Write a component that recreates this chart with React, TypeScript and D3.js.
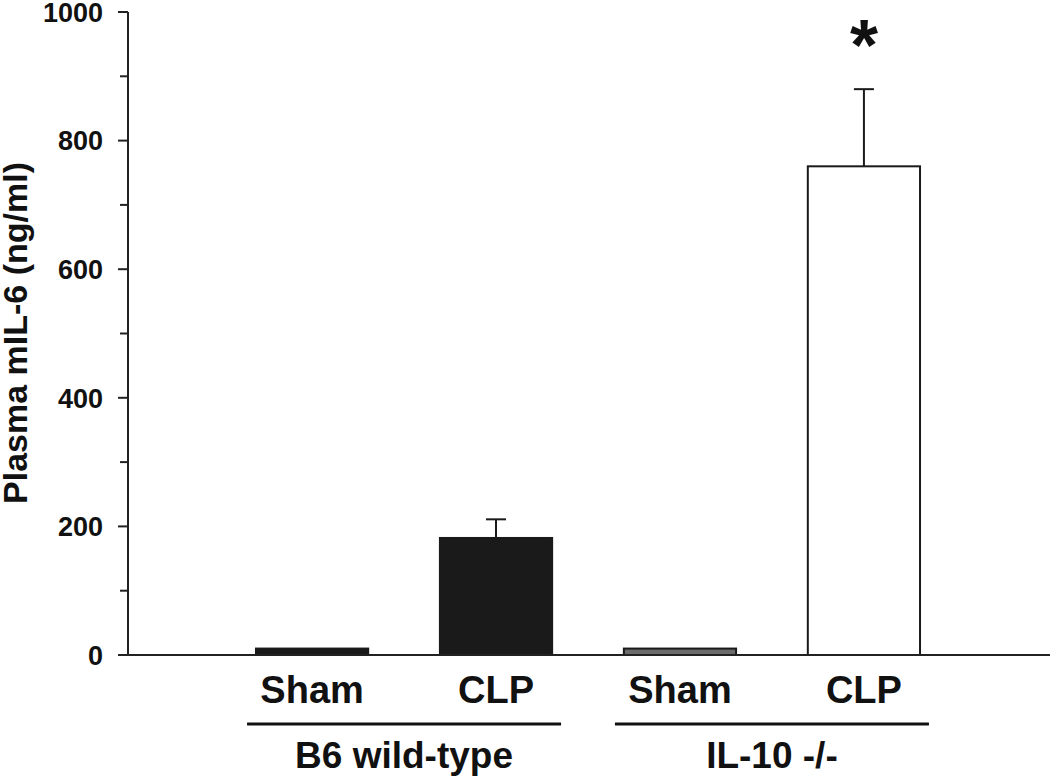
import React, { useRef, useEffect } from "react";
import * as d3 from "d3";

const categories = ["Sham", "CLP", "Sham", "CLP"];
const groups = ["B6 wild-type", "IL-10 -/-"];
const groupOf = [0, 0, 1, 1];
const means = [10, 182, 10, 760];
const sems = [0, 29, 0, 120];
const fills = ["#1a1a1a", "#1a1a1a", "#6b6b6b", "#ffffff"];
const majorTicks = [0, 200, 400, 600, 800, 1000];
const minorTicks = [100, 300, 500, 700, 900];
const significant = [false, false, false, true];

const W = 1050;
const H = 783;
const FONT = "'Liberation Sans', Arial, Helvetica, sans-serif";

function App() {
  const svgRef = useRef<SVGSVGElement>(null);

  useEffect(() => {
    const svg = d3.select(svgRef.current);
    svg.selectAll("*").remove();

    const y = d3.scaleLinear().domain([0, 1000]).range([655, 12]);
    const x = d3
      .scaleBand<number>()
      .domain(categories.map((c, i) => i))
      .range([164, 1012])
      .paddingInner(0.39)
      .paddingOuter(0.5);
    const axisX = 128;

    // y axis
    const yAxis = svg.append("g").attr("transform", `translate(${axisX},0)`);
    yAxis
      .append("line")
      .attr("x1", 0)
      .attr("x2", 0)
      .attr("y1", y(1000))
      .attr("y2", y(0))
      .attr("stroke", "#222")
      .attr("stroke-width", 2);
    yAxis
      .selectAll(".major")
      .data(majorTicks)
      .join("line")
      .attr("x1", -10)
      .attr("x2", 0)
      .attr("y1", (d) => y(d))
      .attr("y2", (d) => y(d))
      .attr("stroke", "#222")
      .attr("stroke-width", 2);
    yAxis
      .selectAll(".minor")
      .data(minorTicks)
      .join("line")
      .attr("x1", -8)
      .attr("x2", 0)
      .attr("y1", (d) => y(d))
      .attr("y2", (d) => y(d))
      .attr("stroke", "#222")
      .attr("stroke-width", 2);
    yAxis
      .selectAll("text")
      .data(majorTicks)
      .join("text")
      .attr("x", -25)
      .attr("y", (d) => y(d))
      .attr("dy", "0.36em")
      .attr("text-anchor", "end")
      .attr("font-family", FONT)
      .attr("font-weight", "bold")
      .attr("font-size", 27)
      .attr("fill", "#111")
      .text((d) => d);

    svg
      .append("text")
      .attr("transform", `translate(27,333) rotate(-90)`)
      .attr("text-anchor", "middle")
      .attr("font-family", FONT)
      .attr("font-weight", "bold")
      .attr("font-size", 34)
      .attr("fill", "#111")
      .text("Plasma mIL-6 (ng/ml)");

    // bars
    svg
      .selectAll(".bar")
      .data(means)
      .join("rect")
      .attr("x", (d, i) => x(i)!)
      .attr("width", x.bandwidth())
      .attr("y", (d) => y(d))
      .attr("height", (d) => y(0) - y(d))
      .attr("fill", (d, i) => fills[i])
      .attr("stroke", "#1a1a1a")
      .attr("stroke-width", 2);

    // error bars (upper only)
    const cx = (i: number) => x(i)! + x.bandwidth() / 2;
    const errs = means.map((m, i) => ({ m, e: sems[i], i })).filter((d) => d.e > 0);
    svg
      .selectAll(".err")
      .data(errs)
      .join("line")
      .attr("x1", (d) => cx(d.i))
      .attr("x2", (d) => cx(d.i))
      .attr("y1", (d) => y(d.m))
      .attr("y2", (d) => y(d.m + d.e))
      .attr("stroke", "#1a1a1a")
      .attr("stroke-width", 2);
    svg
      .selectAll(".cap")
      .data(errs)
      .join("line")
      .attr("x1", (d) => cx(d.i) - 10)
      .attr("x2", (d) => cx(d.i) + 10)
      .attr("y1", (d) => y(d.m + d.e))
      .attr("y2", (d) => y(d.m + d.e))
      .attr("stroke", "#1a1a1a")
      .attr("stroke-width", 2);

    // significance marks
    svg
      .selectAll(".star")
      .data(means.map((m, i) => i).filter((i) => significant[i]))
      .join("text")
      .attr("x", (i) => cx(i))
      .attr("y", 70)
      .attr("text-anchor", "middle")
      .attr("font-family", FONT)
      .attr("font-weight", "bold")
      .attr("font-size", 72)
      .attr("fill", "#111")
      .text("*");

    // x axis baseline
    svg
      .append("line")
      .attr("x1", 118)
      .attr("x2", W)
      .attr("y1", y(0))
      .attr("y2", y(0))
      .attr("stroke", "#222")
      .attr("stroke-width", 2);

    // category labels
    svg
      .selectAll(".cat")
      .data(categories)
      .join("text")
      .attr("x", (d, i) => cx(i))
      .attr("y", 703)
      .attr("text-anchor", "middle")
      .attr("font-family", FONT)
      .attr("font-weight", "bold")
      .attr("font-size", 38)
      .attr("fill", "#111")
      .text((d) => d);

    // group underlines and labels
    const groupCenter = (g: number) => {
      const idx = groupOf.map((v, i) => (v === g ? i : -1)).filter((i) => i >= 0);
      return (cx(idx[0]) + cx(idx[idx.length - 1])) / 2;
    };
    svg
      .selectAll(".gline")
      .data(groups)
      .join("line")
      .attr("x1", (d, g) => groupCenter(g) - 157)
      .attr("x2", (d, g) => groupCenter(g) + 157)
      .attr("y1", 724)
      .attr("y2", 724)
      .attr("stroke", "#111")
      .attr("stroke-width", 3);
    svg
      .selectAll(".glabel")
      .data(groups)
      .join("text")
      .attr("x", (d, g) => groupCenter(g))
      .attr("y", 768)
      .attr("text-anchor", "middle")
      .attr("font-family", FONT)
      .attr("font-weight", "bold")
      .attr("font-size", 37)
      .attr("fill", "#111")
      .text((d) => d);
  }, []);

  return (
    <div>
      <style>{`body{margin:0}`}</style>
      <svg ref={svgRef} width={W} height={H} style={{ display: "block", background: "#fff" }}></svg>
    </div>
  );
}

export default App;
